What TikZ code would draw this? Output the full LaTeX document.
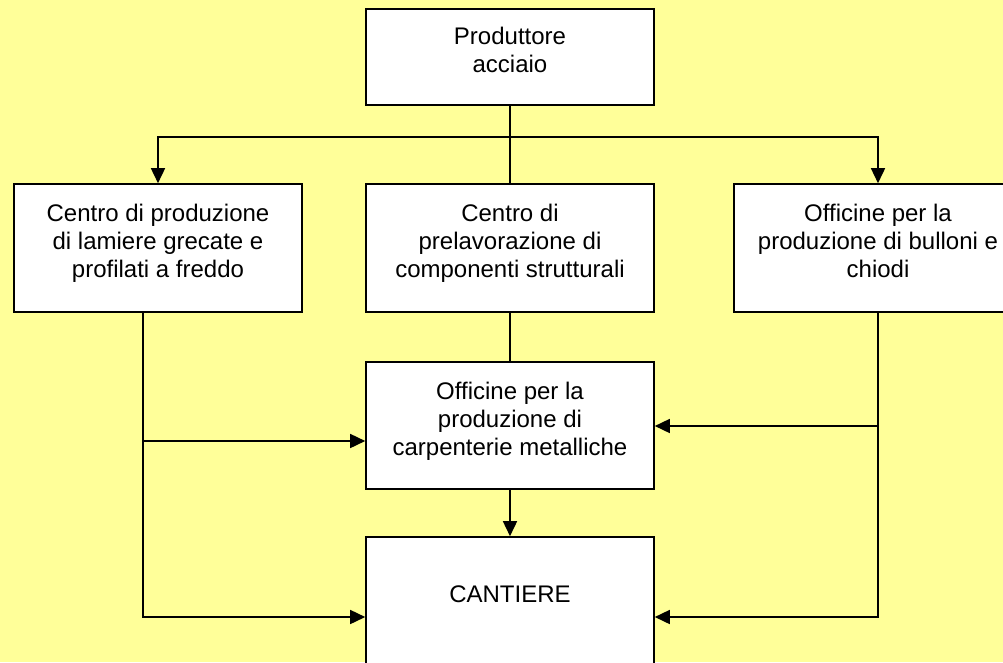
\documentclass[tikz,border=0pt]{standalone}
\usepackage{fontspec}
\setmainfont{Liberation Sans}
\usetikzlibrary{arrows.meta}
\definecolor{sfondo}{HTML}{FFFF99}
\tikzset{box/.style={draw=black,line width=1.6pt,fill=white,minimum width=288pt,minimum height=128pt,
  inner sep=0pt,align=center,text depth=14pt,font=\fontsize{24}{27.8}\selectfont}}
\tikzset{linea/.style={line width=1.6pt}}
\tikzset{freccia/.style={linea,-{Triangle[length=15pt,width=14pt]}}}

\begin{document}
\begin{tikzpicture}[x=1pt,y=-1pt]
	\fill[sfondo] (0,0) rectangle (1003,662);
	\useasboundingbox (0,0) rectangle (1003,662);
	% the boxes, at pixel positions of the picture
	\node[box,minimum height=96pt] (prod) at (510,57) {Produttore\\acciaio};
	\node[box] (lamiere) at (158,248) {Centro di produzione\\di lamiere grecate e\\profilati a freddo};
	\node[box] (prelav) at (510,248) {Centro di\\prelavorazione di\\componenti strutturali};
	\node[box] (bulloni) at (878,248) {Officine per la\\produzione di bulloni e\\chiodi};
	\node[box,minimum height=127pt] (carp) at (510,425.5) {Officine per la\\produzione di\\carpenterie metalliche};
	\node[box] (cant) at (510,601) {CANTIERE};
	% branch points of the connectors
	\coordinate (split) at (510,137);
	\coordinate (ltop) at ([xshift=-15pt]lamiere.south);
	\coordinate (lmid) at (143,441);
	\coordinate (lbot) at (143,617);
	\coordinate (rmid) at (878,426);
	\coordinate (rbot) at (878,617);

	\draw [linea] (prod.south) -- (prelav.north);
	\draw [freccia] (split) -| (lamiere.north);
	\draw [freccia] (split) -| (bulloni.north);
	\draw [linea] (prelav.south) -- (carp.north);
	\draw [freccia] (carp.south) -- (cant.north);

	\draw [freccia] (ltop) |- (lbot -| cant.west);
	\draw [freccia] (lmid) -- (lmid -| carp.west);
	\draw [freccia] (bulloni.south) |- (rbot -| cant.east);
	\draw [freccia] (rmid) -- (rmid -| carp.east);
\end{tikzpicture}
\end{document}
